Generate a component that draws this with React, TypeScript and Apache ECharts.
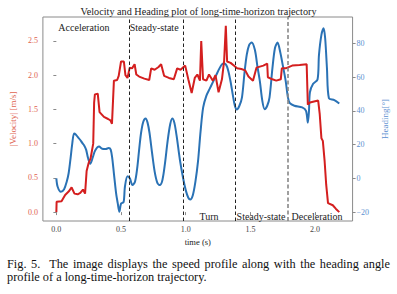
import React, { useEffect, useRef } from "react";
import * as echarts from "echarts";

const velocityTime = [
  0.0, 0.002, 0.04, 0.068, 0.095, 0.118, 0.14, 0.165, 0.185, 0.206, 0.222, 0.234, 0.25, 0.264, 0.285,
  0.292, 0.298, 0.32, 0.334, 0.368, 0.4, 0.418, 0.43, 0.445, 0.47, 0.482, 0.5, 0.522, 0.534, 0.55,
  0.567, 0.585, 0.605, 0.618, 0.64, 0.68, 0.718, 0.733, 0.76, 0.79, 0.81, 0.833, 0.87, 0.908, 0.934,
  0.96, 0.996, 1.02, 1.046, 1.07, 1.09, 1.11, 1.12, 1.134, 1.16, 1.18, 1.21, 1.23, 1.254, 1.28,
  1.297, 1.31, 1.32, 1.347, 1.372, 1.397, 1.43, 1.46, 1.485, 1.52, 1.547, 1.6, 1.63, 1.635, 1.67,
  1.7, 1.735, 1.743, 1.773, 1.823, 1.88, 1.935, 1.944, 1.96, 2.024, 2.036, 2.049, 2.06, 2.074, 2.086,
  2.1, 2.137, 2.16, 2.187,
];
const velocityValues = [
  0.0, 0.15, 0.16, 0.25, 0.3, 0.36, 0.27, 0.26, 0.28, 0.33, 0.27, 0.6, 0.72, 0.78, 1.0,
  1.6, 1.72, 1.73, 1.46, 1.39, 1.36, 1.34, 1.29, 1.92, 1.93, 1.99, 2.2, 2.2, 2.0, 1.96,
  2.11, 2.1, 2.16, 2.01, 1.98, 1.95, 1.93, 2.1, 2.08, 2.12, 2.16, 1.99, 1.96, 1.94, 2.1,
  2.08, 2.14, 1.94, 1.74, 1.96, 2.01, 1.92, 2.5, 1.94, 1.92, 2.01, 1.92, 2.0, 1.75, 1.94,
  2.21, 2.72, 2.2, 2.18, 2.14, 2.1, 2.09, 2.07, 1.98, 1.92, 2.11, 2.14, 2.17, 1.97, 1.94,
  1.92, 1.94, 2.1, 2.1, 2.14, 2.15, 2.16, 1.57, 1.6, 1.63, 1.43, 1.08, 1.04, 0.74, 0.4,
  0.13, 0.1, 0.05, 0.0,
];

const headingTime = [
  0.0, 0.01, 0.035, 0.06, 0.08, 0.095, 0.11, 0.122, 0.137, 0.15, 0.165, 0.182, 0.2, 0.215, 0.23,
  0.245, 0.262, 0.282, 0.3, 0.33, 0.355, 0.38, 0.405, 0.42, 0.432, 0.445, 0.462, 0.475, 0.487, 0.5,
  0.52, 0.53, 0.55, 0.568, 0.588, 0.608, 0.625, 0.64, 0.655, 0.672, 0.69, 0.705, 0.72, 0.74, 0.76,
  0.78, 0.8, 0.82, 0.84, 0.86, 0.88, 0.896, 0.912, 0.93, 0.955, 0.98, 1.0, 1.02, 1.035, 1.055,
  1.075, 1.095, 1.115, 1.135, 1.16, 1.185, 1.21, 1.235, 1.26, 1.28, 1.297, 1.32, 1.345, 1.365, 1.38,
  1.395, 1.415, 1.435, 1.455, 1.472, 1.49, 1.51, 1.535, 1.555, 1.573, 1.592, 1.61, 1.63, 1.648, 1.67,
  1.69, 1.71, 1.73, 1.748, 1.773, 1.79, 1.805, 1.84, 1.9, 1.93, 1.944, 1.953, 1.96, 1.985, 2.019,
  2.03, 2.049, 2.066, 2.078, 2.092, 2.107, 2.149, 2.187,
];
const headingValues = [
  0, -5, -8, -6.5, -2, 3, 12, 20, 26.5, 26, 24.5, 23, 21, 19.5, 17,
  12, 8.6, 12.5, 16.5, 18.8, 17.5, 17.3, 18, 17, 12, 2.8, -9, -15, -19.8, -15,
  -14, -5, 1.2, 0, -4, -2, 6, 17, 27, 33.5, 35.5, 33, 27, 15, 4,
  -2.5, -4, -1, 9, 22, 32, 35.5, 33, 25, 11, 0, -7, -11.5, -12.5, -10,
  -2, 10, 28, 42, 49, 53, 57, 61, 65, 67.5, 68, 66, 58, 49, 43,
  40.8, 43, 48, 63, 73.3, 79, 80.5, 76, 66, 57.6, 46, 41, 43, 48, 65,
  77.2, 80.5, 75, 68, 57.6, 48, 44.5, 43, 42, 40, 33, 40, 51, 56, 58.6,
  73, 85, 89, 83, 65, 47.5, 46.3, 44.3,
];

const timeTicks = [0, 0.5, 1.0, 1.5, 2.0];
const velocityTicks = [0, 0.5, 1.0, 1.5, 2.0, 2.5];
const headingTicks = [-20, 0, 20, 40, 60, 80];

const phaseBoundaries = [0.558, 0.976, 1.382, 1.79];
const phaseNames = ["Acceleration", "Steady-state", "Turn", "Steady-state", "Deceleration"];
const phaseLabelTimes = [0.213, 0.756, 1.18, 1.582, 2.015];
const phaseLabelVelocity = [2.69, 2.69, -0.06, -0.06, -0.06];

const captionLine1 = "Fig. 5.\u00a0 The image displays the speed profile along with the heading angle";
const captionLine2 = "profile of a long-time-horizon trajectory.";

const SERIF = "'Liberation Serif', 'DejaVu Serif', serif";
const RED = "#d41f1f";
const BLUE = "#2a72b5";
const RED_TEXT = "#e0634f";
const BLUE_TEXT = "#5b8fd0";
const FRAME = "#8a8a8a";

export default function App() {
  const ref = useRef<HTMLDivElement>(null);

  useEffect(() => {
    if (!ref.current) return;
    const chart = echarts.init(ref.current, undefined, { renderer: "svg" });
    const velocityData = velocityTime.map((t, i) => [t, velocityValues[i]]);
    const headingData = headingTime.map((t, i) => [t, headingValues[i]]);

    chart.setOption({
      animation: false,
      title: {
        text: "Velocity and Heading plot of long-time-horizon trajectory",
        left: "center",
        top: 1,
        textStyle: { fontFamily: SERIF, fontSize: 10.2, fontWeight: "normal", color: "#222" },
      },
      grid: {
        left: 38.7,
        right: 40,
        top: 17,
        bottom: 73,
        show: true,
        borderColor: FRAME,
        borderWidth: 1,
        backgroundColor: "transparent",
      },
      xAxis: {
        type: "value",
        min: -0.104,
        max: 2.29,
        name: "time (s)",
        nameLocation: "middle",
        nameGap: 11,
        nameTextStyle: { fontFamily: SERIF, fontSize: 8.5, color: "#222" },
        axisLine: { show: false },
        splitLine: { show: false },
        axisTick: { show: true, length: 3, lineStyle: { color: FRAME }, customValues: timeTicks },
        axisLabel: {
          customValues: timeTicks,
          formatter: (v: number) => v.toFixed(1),
          fontFamily: SERIF,
          fontSize: 8,
          color: "#444",
          margin: 4,
        },
      },
      yAxis: [
        {
          type: "value",
          min: -0.13,
          max: 2.85,
          position: "left",
          name: "|Velocity| [m/s]",
          nameLocation: "middle",
          nameRotate: 90,
          nameGap: 15,
          nameTextStyle: { fontFamily: SERIF, fontSize: 9, color: RED_TEXT },
          axisLine: { show: false },
          splitLine: { show: false },
          axisTick: { show: true, length: 3, lineStyle: { color: FRAME }, customValues: velocityTicks },
          axisLabel: {
            customValues: velocityTicks,
            formatter: (v: number) => v.toFixed(1),
            fontFamily: SERIF,
            fontSize: 8,
            color: RED_TEXT,
            margin: 5,
          },
        },
        {
          type: "value",
          min: -25.3,
          max: 95.6,
          position: "right",
          name: "Heading[°]",
          nameLocation: "middle",
          nameRotate: 90,
          nameGap: 16,
          nameTextStyle: { fontFamily: SERIF, fontSize: 9, color: BLUE_TEXT },
          axisLine: { show: false },
          splitLine: { show: false },
          axisTick: { show: true, length: 3, lineStyle: { color: FRAME }, customValues: headingTicks },
          axisLabel: {
            customValues: headingTicks,
            formatter: (v: number) => (v < 0 ? "\u2212" + Math.abs(v) : String(v)),
            fontFamily: SERIF,
            fontSize: 8,
            color: BLUE_TEXT,
            margin: 4,
          },
        },
      ],
      series: [
        {
          type: "line",
          name: "Heading",
          yAxisIndex: 1,
          data: headingData,
          smooth: 0.3,
          showSymbol: false,
          symbol: "none",
          lineStyle: { color: BLUE, width: 2 },
          z: 2,
        },
        {
          type: "line",
          name: "Velocity",
          yAxisIndex: 0,
          data: velocityData,
          showSymbol: false,
          symbol: "none",
          lineStyle: { color: RED, width: 2 },
          z: 3,
          markLine: {
            silent: true,
            symbol: "none",
            label: { show: false },
            data: phaseBoundaries.map((t, i) => ({
              xAxis: t,
              lineStyle:
                i === phaseBoundaries.length - 1
                  ? { color: "#888", width: 1.6, type: [4, 2.5] }
                  : { color: "#222", width: 1, type: [3.5, 2.5] },
            })),
          },
          markPoint: {
            silent: true,
            symbol: "circle",
            symbolSize: 0,
            data: phaseNames.map((n, i) => ({
              name: n,
              coord: [phaseLabelTimes[i], phaseLabelVelocity[i]],
              label: {
                show: true,
                position: "inside",
                formatter: n,
                fontFamily: SERIF,
                fontSize: 10,
                color: "#222",
              },
            })),
          },
        },
      ],
    });
    return () => chart.dispose();
  }, []);

  const lineStyle: React.CSSProperties = {
    fontFamily: SERIF,
    fontSize: 12.3,
    lineHeight: "12.7px",
    height: 12.7,
    color: "#111",
    whiteSpace: "nowrap",
  };

  return (
    <div style={{ position: "fixed", left: 0, top: 0, width: 397, height: 294, background: "#fff" }}>
      <div ref={ref} style={{ position: "absolute", left: 0, top: 0, width: 397, height: 294 }} />
      <div style={{ position: "absolute", left: 7, top: 258, width: 383 }}>
        <div style={{ ...lineStyle, textAlign: "justify", textAlignLast: "justify", whiteSpace: "normal" }}>
          {captionLine1}
        </div>
        <div style={lineStyle}>{captionLine2}</div>
      </div>
    </div>
  );
}
